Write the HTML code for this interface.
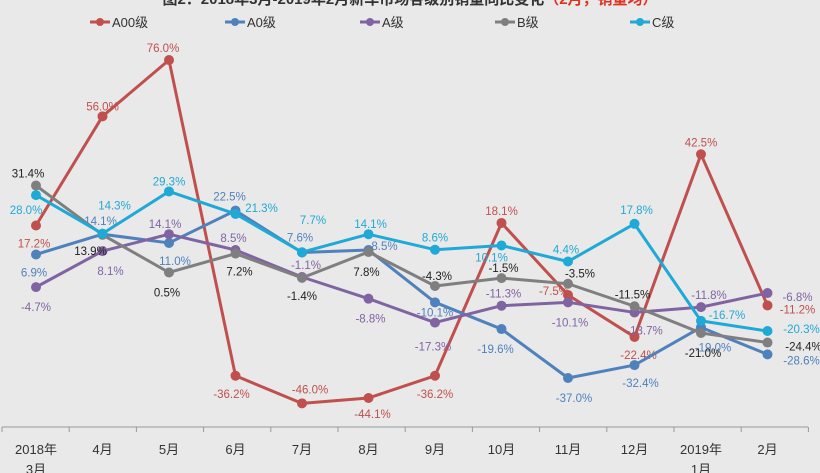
<!DOCTYPE html>
<html><head><meta charset="utf-8">
<style>
html,body{margin:0;padding:0;background:#e9e9e9;}
svg{display:block;font-family:"Liberation Sans","Noto Sans CJK SC",sans-serif;}
</style></head>
<body>
<svg id="chart" width="820" height="473" viewBox="0 0 820 473">
<rect width="820" height="473" fill="#e9e9e9"/>
<text x="410" y="4" text-anchor="middle" font-size="15" font-weight="bold" fill="#333">图2：2018年3月-2019年2月新车市场各级别销量同比变化<tspan fill="#e03020">（2月，销量均）</tspan></text>
<g id="legend"></g>
<g id="axis"></g>
<g id="series"></g>
</svg>
<script>
const categories=["2018年|3月","4月","5月","6月","7月","8月","9月","10月","11月","12月","2019年|1月","2月"];
const seriesNames=["A00级","A0级","A级","B级","C级"];
const seriesColors=["#c0504d","#4f81bd","#8064a2","#7f7f7f","#1fa9d6"];
const a00=[17.2,56.0,76.0,-36.2,-46.0,-44.1,-36.2,18.1,-7.5,-22.4,42.5,-11.2];
const a0=[6.9,14.1,11.0,22.5,7.6,8.5,-10.1,-19.6,-37.0,-32.4,-19.0,-28.6];
const aLevel=[-4.7,8.1,14.1,8.5,-1.1,-8.8,-17.3,-11.3,-10.1,-13.7,-11.8,-6.8];
const bLevel=[31.4,13.9,0.5,7.2,-1.4,7.8,-4.3,-1.5,-3.5,-11.5,-21.0,-24.4];
const cLevel=[28.0,14.3,29.3,21.3,7.7,14.1,8.6,10.1,4.4,17.8,-16.7,-20.3];
const allSeries=[a00,a0,aLevel,bLevel,cLevel];
// label placement offsets (layout only)
const lblOff=[
[[-2,18],[0,-10],[-6,-12],[-4,18],[8,-14],[4,16],[0,18],[0,-12],[-14,-4],[4,18],[0,-12],[30,4]],
[[-2,18],[-2,-13],[6,18],[-6,-14],[-2,-15],[16,-4],[0,10],[-6,20],[6,20],[6,18],[12,20],[34,6]],
[[0,20],[8,20],[-4,-10],[-2,-12],[4,-12],[2,20],[-2,24],[2,-12],[2,20],[10,18],[8,-12],[30,4]],
[[-8,-12],[-12,16],[-2,20],[4,18],[0,18],[-2,20],[2,-10],[2,-10],[12,-10],[-2,-12],[2,20],[36,4]],
[[-10,15],[12,-28],[0,-10],[26,-6],[11,-32],[2,-10],[0,-12],[-10,12],[-2,-12],[2,-14],[26,-6],[34,-2]]
];
function xPos(i){return 36+i*66.5;}
function yPos(v){return 273.9-v*2.814;}
const NS="http://www.w3.org/2000/svg";
function mk(tag,attrs,parent){const e=document.createElementNS(NS,tag);for(const k in attrs)e.setAttribute(k,attrs[k]);parent.appendChild(e);return e;}
const ax=document.getElementById('axis');
const axLine=mk('line',{x1:2,x2:808,y1:427,y2:427,stroke:'#999','stroke-width':1},ax);


for(let i=0;i<=12;i++){
 const t=mk('line',{x1:2+i*67.2,x2:2+i*67.2,y1:427,y2:432,stroke:'#999'},ax);
 
 
}
categories.forEach((c,i)=>{
 const parts=c.split('|');
 parts.forEach((p,j)=>{
  const t=mk('text',{x:xPos(i),y:454+j*20,'text-anchor':'middle','font-size':13,fill:'#333'},ax);
  t.textContent=p;
  
  
 });
});
const lg=document.getElementById('legend');
seriesNames.forEach((n,i)=>{
 const x0=90+i*135;
 const g=mk('g',{},lg);
 
 
 mk('line',{x1:x0,x2:x0+20,y1:22,y2:22,stroke:seriesColors[i],'stroke-width':3},g);
 mk('circle',{cx:x0+10,cy:22,r:4,fill:seriesColors[i]},g);
 const t=mk('text',{x:x0+22,y:27,'font-size':13,fill:'#333'},g);
 t.textContent=n;
});
const sg=document.getElementById('series');
allSeries.forEach((vals,s)=>{
 const g=mk('g',{},sg);
 
 
 const pts=vals.map((v,i)=>xPos(i)+','+yPos(v)).join(' ');
 const pl=mk('polyline',{points:pts,fill:'none',stroke:seriesColors[s],'stroke-width':3,'stroke-linejoin':'round'},g);
 
 
 vals.forEach((v,i)=>{
  const c=mk('circle',{cx:xPos(i),cy:yPos(v),r:5,fill:seriesColors[s]},g);
  
  
  const o=lblOff[s][i];
  const t=mk('text',{x:xPos(i)+o[0],y:yPos(v)+o[1]+4,'text-anchor':'middle','font-size':11.5,fill:(s===3?'#222':seriesColors[s])},g);
  t.textContent=v.toFixed(1)+'%';
  
  
 });
});
</script>
</body></html>
